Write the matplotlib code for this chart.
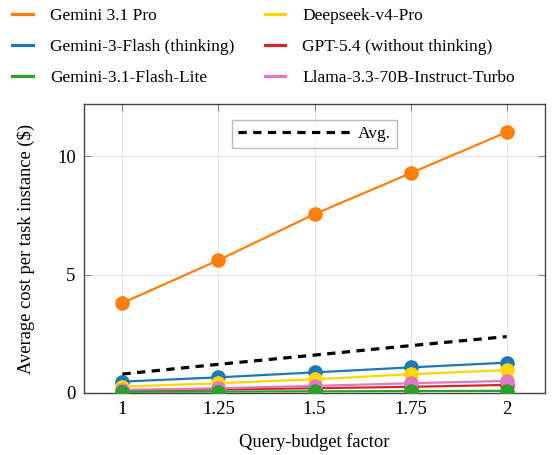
import matplotlib
matplotlib.use("Agg")
import matplotlib.pyplot as plt
from matplotlib.lines import Line2D

plt.rcParams['font.family'] = ['Liberation Serif', 'DejaVu Serif']
plt.rcParams['mathtext.fontset'] = 'stix'

x = [1, 1.25, 1.5, 1.75, 2]
xticklabels = ["1", "1.25", "1.5", "1.75", "2"]
names = ["Gemini 3.1 Pro", "Gemini-3-Flash (thinking)", "Gemini-3.1-Flash-Lite",
         "Deepseek-v4-Pro", "GPT-5.4 (without thinking)", "Llama-3.3-70B-Instruct-Turbo"]
colors = ["#ff7f0e", "#1f77b4", "#2ca02c", "#ffd700", "#d62728", "#e377c2"]
gemini_pro = [3.80, 5.61, 7.55, 9.28, 11.01]
gemini_flash = [0.48, 0.66, 0.87, 1.08, 1.28]
gemini_lite = [0.05, 0.06, 0.07, 0.08, 0.09]
deepseek = [0.27, 0.41, 0.58, 0.79, 0.97]
gpt = [0.10, 0.15, 0.20, 0.26, 0.34]
llama = [0.13, 0.20, 0.30, 0.41, 0.51]
avg = [0.80, 1.21, 1.60, 2.00, 2.38]

series = [gemini_pro, gemini_flash, gemini_lite, deepseek, gpt, llama]

fig = plt.figure(figsize=(5.59, 4.55), dpi=100)
ax = fig.add_axes([0.1503, 0.1363, 0.975 - 0.1503, 0.7714 - 0.1363])

for i in [0, 1, 3, 4, 5, 2]:
    ax.plot(x, series[i], color=colors[i], lw=1.6, marker='o', ms=9.5, zorder=3)
avg_line, = ax.plot(x, avg, color='black', lw=2.3, ls=(0, (2.6, 2.0)), zorder=4, label='Avg.')

ax.set_xlim(0.9, 2.1)
ax.set_ylim(0, 12.2)
ax.set_xticks(x)
ax.set_xticklabels(xticklabels)
ax.set_yticks([0, 5, 10])
ax.tick_params(direction='in', length=5, color='#888888', labelsize=13.5,
               top=True, right=True, pad=6)
ax.grid(True, color='#e6e6e6', lw=0.8)
ax.set_axisbelow(True)
for s in ax.spines.values():
    s.set_color('#444444')
    s.set_linewidth(1.0)

ax.set_xlabel("Query-budget factor", fontsize=13.3, labelpad=11)
ax.set_ylabel("Average cost per task instance ($)", fontsize=13.3, labelpad=16)

ax.legend(handles=[avg_line], loc='upper center', fontsize=12.5, frameon=True,
          fancybox=False, edgecolor='#aaaaaa', handlelength=6.6, handletextpad=0.3,
          borderpad=0.35, borderaxespad=0.0, bbox_to_anchor=(0.5, 0.945))

handles = [Line2D([], [], color=c, lw=2.3) for c in colors]
fig.legend(handles=handles, labels=names, ncol=2, loc='upper left',
           bbox_to_anchor=(0.0215, 0.983), frameon=False, fontsize=12.5,
           handlelength=1.2, handletextpad=0.98, columnspacing=1.75,
           labelspacing=0.85, borderaxespad=0.0, borderpad=0.0)

fig.savefig("out.png", dpi=100)
